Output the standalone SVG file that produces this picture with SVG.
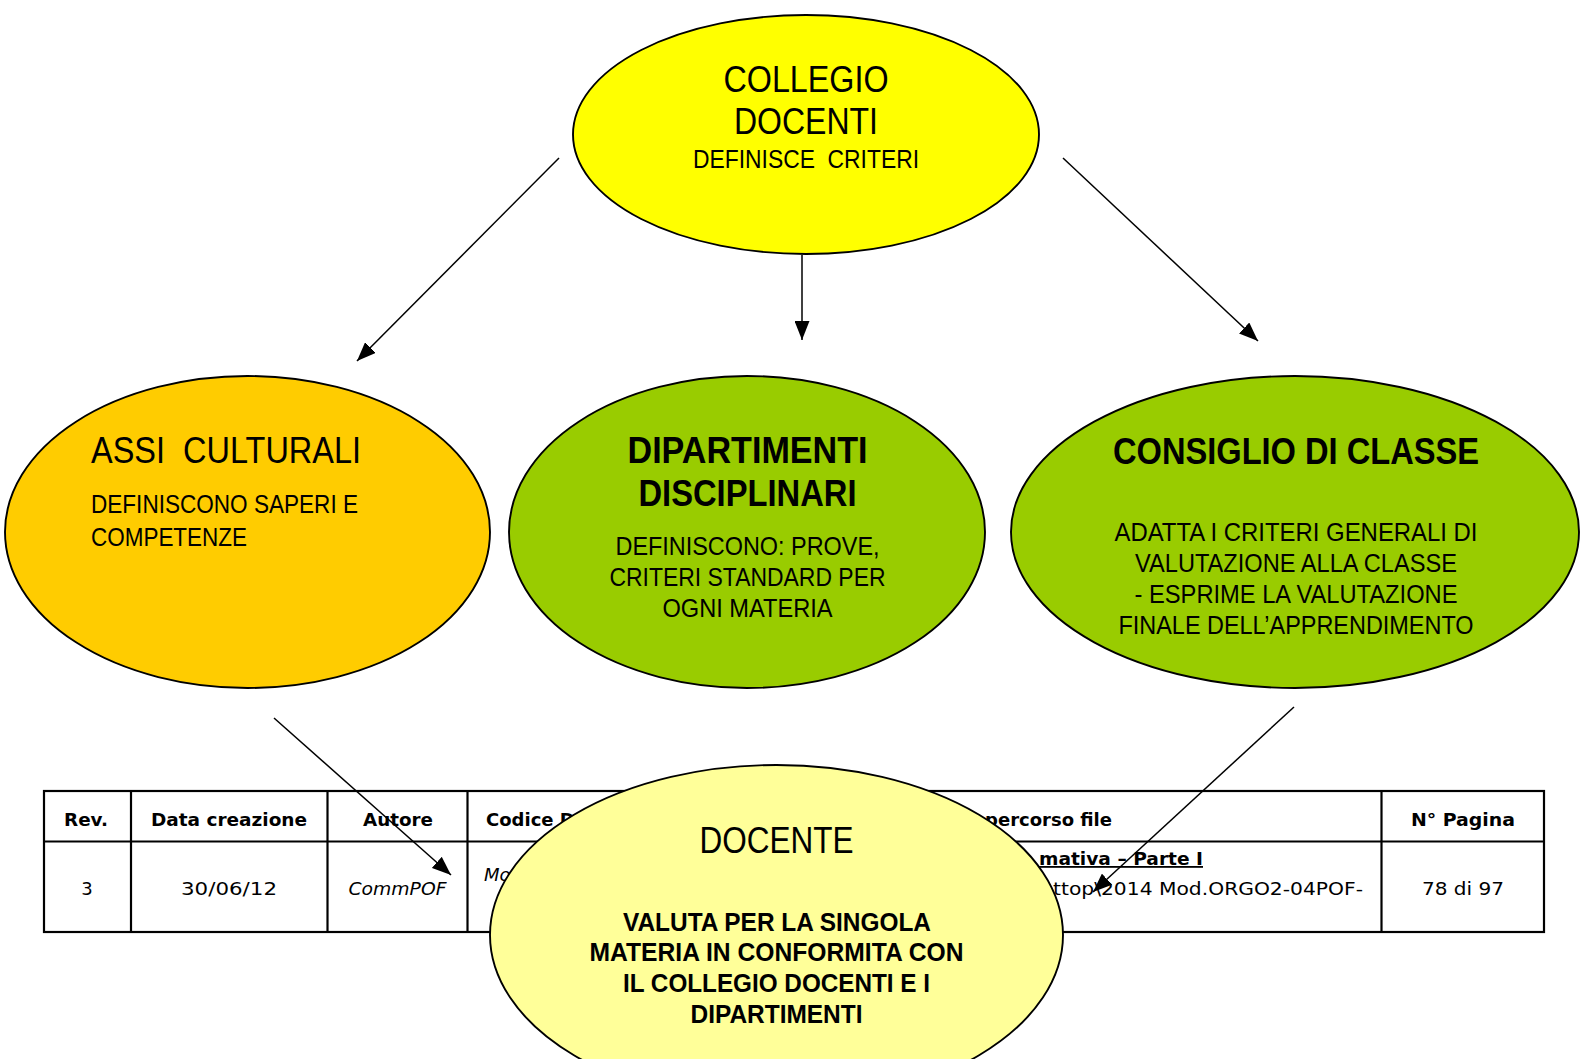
<svg xmlns="http://www.w3.org/2000/svg" width="1580" height="1059" viewBox="0 0 1580 1059">
<defs>
<marker id="arr" markerUnits="userSpaceOnUse" markerWidth="20" markerHeight="15" refX="19" refY="7.5" orient="auto">
<path d="M0,0 L19,7.5 L0,15 z" fill="#000"/>
</marker>
<style>
.node{stroke:#000;stroke-width:1.9}
.t{font-family:"Liberation Sans",Arial,sans-serif;fill:#000}
.b{font-weight:bold}
.tab{font-family:"DejaVu Sans","Liberation Sans",sans-serif;fill:#000;font-size:18px}
.tl{stroke:#000;stroke-width:2.2;fill:none}
.con{stroke:#000;stroke-width:1.5;fill:none;marker-end:url(#arr)}
</style>
</defs>
<rect width="1580" height="1059" fill="#fff"/>

<g id="table">
<rect class="tl" x="44" y="791" width="1500" height="141"/>
<line class="tl" x1="44" y1="841.5" x2="1544" y2="841.5"/>
<line class="tl" x1="131" y1="791" x2="131" y2="932"/>
<line class="tl" x1="327.5" y1="791" x2="327.5" y2="932"/>
<line class="tl" x1="467.5" y1="791" x2="467.5" y2="932"/>
<line class="tl" x1="1381.5" y1="791" x2="1381.5" y2="932"/>
<text class="tab b" x="86" y="826" text-anchor="middle" textLength="44" lengthAdjust="spacingAndGlyphs">Rev.</text>
<text class="tab b" x="229" y="826" text-anchor="middle" textLength="156" lengthAdjust="spacingAndGlyphs">Data creazione</text>
<text class="tab b" x="398" y="826" text-anchor="middle" textLength="70" lengthAdjust="spacingAndGlyphs">Autore</text>
<text class="tab b" x="486" y="826">Codice D</text>
<text class="tab b" x="1112" y="826" text-anchor="end">percorso file</text>
<text class="tab b" x="1463" y="826" text-anchor="middle" textLength="104" lengthAdjust="spacingAndGlyphs">N° Pagina</text>
<text class="tab" x="87" y="895" text-anchor="middle">3</text>
<text class="tab" x="229" y="895" text-anchor="middle" textLength="96" lengthAdjust="spacingAndGlyphs">30/06/12</text>
<text class="tab" x="397.5" y="895" text-anchor="middle" font-style="italic" textLength="98" lengthAdjust="spacingAndGlyphs">CommPOF</text>
<text class="tab" x="484" y="881" font-style="italic">Mo</text>
<text class="tab b" x="1039" y="865" text-decoration="underline" textLength="164" lengthAdjust="spacingAndGlyphs">mativa – Parte I</text>
<text class="tab" x="1053" y="895" textLength="310" lengthAdjust="spacingAndGlyphs">ttop\2014 Mod.ORGO2-04POF-</text>
<text class="tab" x="1463" y="895" text-anchor="middle" textLength="82" lengthAdjust="spacingAndGlyphs">78 di 97</text>
</g>

<g id="collegio">
<ellipse class="node" cx="806" cy="134.5" rx="233" ry="119.5" fill="#FFFF00"/>
<text class="t" x="806" y="92" font-size="36" text-anchor="middle" textLength="165" lengthAdjust="spacingAndGlyphs">COLLEGIO</text>
<text class="t" x="806" y="134" font-size="36" text-anchor="middle" textLength="144" lengthAdjust="spacingAndGlyphs">DOCENTI</text>
<text class="t" x="806" y="168" font-size="26" text-anchor="middle" textLength="226" lengthAdjust="spacingAndGlyphs" xml:space="preserve">DEFINISCE  CRITERI</text>
</g>

<g id="assi">
<ellipse class="node" cx="247.5" cy="532" rx="242.5" ry="156" fill="#FFCC00"/>
<text class="t" x="91" y="463" font-size="36" textLength="270" lengthAdjust="spacingAndGlyphs" xml:space="preserve">ASSI  CULTURALI</text>
<text class="t" x="91" y="513" font-size="26" textLength="267" lengthAdjust="spacingAndGlyphs">DEFINISCONO SAPERI E</text>
<text class="t" x="91" y="546" font-size="26" textLength="156" lengthAdjust="spacingAndGlyphs">COMPETENZE</text>
</g>

<g id="dipartimenti">
<ellipse class="node" cx="747" cy="532" rx="238" ry="156" fill="#99CC00"/>
<text class="t b" x="747.5" y="463" font-size="36" text-anchor="middle" textLength="240" lengthAdjust="spacingAndGlyphs">DIPARTIMENTI</text>
<text class="t b" x="747.5" y="506" font-size="36" text-anchor="middle" textLength="218" lengthAdjust="spacingAndGlyphs">DISCIPLINARI</text>
<text class="t" x="747.5" y="555" font-size="25" text-anchor="middle" textLength="264" lengthAdjust="spacingAndGlyphs">DEFINISCONO: PROVE,</text>
<text class="t" x="747.5" y="586" font-size="25" text-anchor="middle" textLength="276" lengthAdjust="spacingAndGlyphs">CRITERI STANDARD PER</text>
<text class="t" x="747.5" y="616.5" font-size="25" text-anchor="middle" textLength="170" lengthAdjust="spacingAndGlyphs">OGNI MATERIA</text>
</g>

<g id="consiglio">
<ellipse class="node" cx="1295" cy="532" rx="284" ry="156" fill="#99CC00"/>
<text class="t b" x="1296" y="463.5" font-size="36" text-anchor="middle" textLength="366" lengthAdjust="spacingAndGlyphs">CONSIGLIO DI CLASSE</text>
<text class="t" x="1296" y="541" font-size="25.5" text-anchor="middle" textLength="363" lengthAdjust="spacingAndGlyphs">ADATTA I CRITERI GENERALI DI</text>
<text class="t" x="1296" y="571.5" font-size="25.5" text-anchor="middle" textLength="322" lengthAdjust="spacingAndGlyphs">VALUTAZIONE ALLA CLASSE</text>
<text class="t" x="1296" y="602.5" font-size="25.5" text-anchor="middle" textLength="323" lengthAdjust="spacingAndGlyphs">- ESPRIME LA VALUTAZIONE</text>
<text class="t" x="1296" y="634" font-size="25.5" text-anchor="middle" textLength="355" lengthAdjust="spacingAndGlyphs">FINALE DELL’APPRENDIMENTO</text>
</g>

<g id="docente">
<ellipse class="node" cx="776.5" cy="935" rx="286.5" ry="170" fill="#FFFF99"/>
<text class="t" x="776.5" y="853" font-size="36" text-anchor="middle" textLength="154" lengthAdjust="spacingAndGlyphs">DOCENTE</text>
<text class="t b" x="777" y="930.5" font-size="25.5" text-anchor="middle" textLength="308" lengthAdjust="spacingAndGlyphs">VALUTA PER LA SINGOLA</text>
<text class="t b" x="776.5" y="961" font-size="25.5" text-anchor="middle" textLength="374" lengthAdjust="spacingAndGlyphs">MATERIA IN CONFORMITA CON</text>
<text class="t b" x="776.5" y="991.5" font-size="25.5" text-anchor="middle" textLength="307" lengthAdjust="spacingAndGlyphs">IL COLLEGIO DOCENTI E I</text>
<text class="t b" x="776.5" y="1022.5" font-size="25.5" text-anchor="middle" textLength="172" lengthAdjust="spacingAndGlyphs">DIPARTIMENTI</text>
</g>

<g id="connectors">
<line class="con" x1="559" y1="158" x2="357" y2="361"/>
<line class="con" x1="802" y1="255" x2="802" y2="340"/>
<line class="con" x1="1063" y1="158" x2="1258" y2="341"/>
<line class="con" x1="274" y1="718" x2="451" y2="875"/>
<line class="con" x1="1294" y1="707" x2="1093" y2="892"/>
</g>
</svg>
